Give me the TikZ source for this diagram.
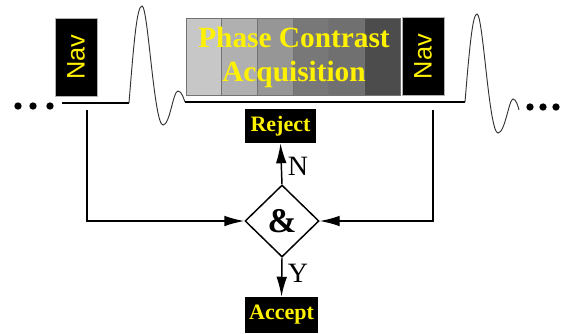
\documentclass[tikz,border=0pt]{standalone}
\usepackage{fontspec}
\setmainfont{Liberation Serif}
\newfontfamily\navfont{Liberation Sans}
\usetikzlibrary{arrows.meta,shapes.geometric,positioning}

\begin{document}
\begin{tikzpicture}[x=0.75pt, y=-0.75pt,
        nav/.style={rectangle, draw=gray!60, fill=black, text=yellow, rotate=90, minimum width=58.5pt, minimum height=31.5pt, inner sep=0pt, font=\navfont\fontsize{19}{21}\selectfont},
        cell/.style={rectangle, draw=black!55, minimum width=26.8pt, minimum height=57.75pt, inner sep=0pt},
        tag/.style={rectangle, fill=black, text=yellow, inner sep=0pt, font=\bfseries\fontsize{16.5}{18}\selectfont},
        gate/.style={diamond, draw, line width=1.1pt, fill=white, minimum width=55.5pt, minimum height=54pt, inner sep=0pt, font=\bfseries\fontsize{26}{28}\selectfont},
        base/.style={line width=1.3pt},
        wave/.style={line width=0.7pt, black!80},
        link/.style={line width=1.1pt, -{Latex[length=15pt, width=8pt]}},
        dot/.style={circle, fill=black, inner sep=0pt, minimum size=5.5pt},
    ]
        \useasboundingbox (0,0) rectangle (566,333);

        % acquisition window
        \foreach \i/\g in {1/22, 2/31, 3/41, 4/53, 5/56, 6/70} {
            \node[cell, fill=black!\g] (c\i) at ({186+35.67*(\i-0.5)}, 56.5) {};
        }
        \node[text=yellow, align=center, font=\bfseries\fontsize{22}{25.5}\selectfont] (pca) at (294, 57) {Phase Contrast\\Acquisition};

        % navigators
        \node[nav] (navA) at (76, 57) {Nav};
        \node[nav] (navB) at (423, 56.5) {Nav};

        % timeline with ECG
        \draw[base] (62,103) -- (129,103);
        \draw[wave] (129,103) .. controls (134,40) and (137,6) .. (142,6)
            .. controls (148,6) and (154,125) .. (163,125)
            .. controls (170,125) and (173,91) .. (178,91)
            .. controls (182,91) and (184,100) .. (185,102);
        \draw[base] (185,102) -- (465,102);
        \draw[wave] (465,102) .. controls (470,40) and (473,14) .. (477,14)
            .. controls (483,14) and (489,133) .. (498,133)
            .. controls (505,133) and (509,99) .. (513,99)
            .. controls (516,99) and (518,106) .. (519,110);
        \foreach \x [count=\k] in {18, 33, 50} {
            \node[dot] (dl\k) at (\x, 106) {};
        }
        \foreach \x [count=\k] in {530, 543, 556} {
            \node[dot] (dr\k) at (\x, 107) {};
        }

        % decision
        \node[gate] (and) at (282, 221) {\&};
        \node[tag, minimum width=53pt, minimum height=25.5pt] (reject) at (280.5, 126) {Reject};
        \node[tag, minimum width=55pt, minimum height=27pt] (accept) at (281.5, 315) {Accept};
        \node[font=\fontsize{21}{23}\selectfont] (nlab) at (298, 166) {N};
        \node[font=\fontsize{21}{23}\selectfont] (ylab) at (298, 273) {Y};

        \coordinate (tapL) at (87, 110);
        \coordinate (tapR) at (433, 110);
        \draw[link] (tapL) |- (and.west);
        \draw[link] (tapR) |- (and.east);
        \draw[link] (and.north) -- (reject.south);
        \draw[link] (and.south) -- (accept.north);
    \end{tikzpicture}
\end{document}
